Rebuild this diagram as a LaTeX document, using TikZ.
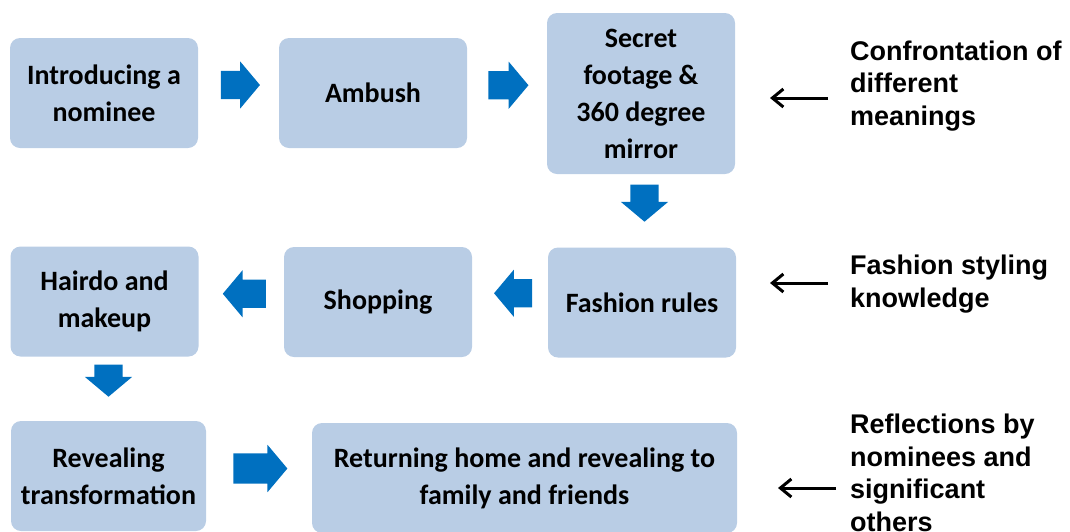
\documentclass[tikz,border=0pt]{standalone}
\usepackage{fontspec}
\setmainfont{Carlito}
\newfontfamily\notefont{Liberation Sans}
\usetikzlibrary{shapes,shapes.arrows,arrows.meta,calc,positioning}
\definecolor{boxblue}{HTML}{B9CDE5}
\definecolor{flowblue}{HTML}{0070C0}

\begin{document}
\begin{tikzpicture}[x=1pt, y=-1pt, >={Straight Barb[length=11pt,width=18pt]},
    stage/.style={rectangle, rounded corners=10pt, fill=boxblue, minimum width=188pt,
      minimum height=110pt, align=center, inner sep=2pt,
      font=\fontsize{28}{37}\selectfont\bfseries},
    flow/.style={single arrow, fill=flowblue, minimum width=47pt, inner xsep=0pt,
      inner ysep=14pt, single arrow head extend=9.5pt, single arrow tip angle=100},
    note/.style={anchor=west, align=left, inner sep=0pt,
      font=\notefont\fontsize{27}{32.5}\selectfont\bfseries}]
    \useasboundingbox (0,0) rectangle (1070,531);
    \node [stage]                             (intro)  at (104,93)    {Introducing a\\nominee};
    \node [stage]                             (ambush) at (373,93)    {Ambush};
    \node [stage, minimum height=161pt]       (secret) at (641,93.5)  {Secret\\footage \&\\360 degree\\mirror};
    \node [stage]                             (rules)  at (642,302.5) {Fashion rules};
    \node [stage]                             (shop)   at (378,302)   {Shopping};
    \node [stage]                             (hair)   at (104.5,301.5) {Hairdo and\\makeup};
    \node [stage, minimum width=195pt]        (reveal) at (108.5,476) {Revealing\\transformation};
    \node [stage, minimum width=425pt]        (home)   at (524.5,478) {Returning home and revealing to\\family and friends};

    \node [flow, minimum height=39pt]                (a1) at ($(intro.east)!0.5!(ambush.west)+(-4,-8)$) {};
    \node [flow, minimum height=40pt]                (a2) at ($(ambush.east)!0.5!(secret.west)+(-4.5,-8)$) {};
    \node [flow, minimum height=37pt, rotate=-90]    (a3) at ($(secret.south)!0.5!(rules.north)+(3,-13.5)$) {};
    \node [flow, minimum height=38pt, rotate=180]    (a4) at ($(rules.west)!0.5!(shop.east)+(9,-9)$) {};
    \node [flow, minimum height=43pt, rotate=180]    (a5) at ($(shop.west)!0.5!(hair.east)+(9,-8)$) {};
    \node [flow, minimum height=32pt, rotate=-90]    (a6) at ($(hair.south)!0.5!(reveal.north)+(2,-14)$) {};
    \node [flow, minimum height=54pt, inner ysep=15pt, single arrow head extend=8.5pt]
                                                     (a7) at ($(reveal.east)!0.5!(home.west)+(-5,-8.5)$) {};

    \node [note] (conflict) at (850,86)  {Confrontation of\\different\\meanings};
    \node [note] (styling)  at (850,284) {Fashion styling\\knowledge};
    \node [note] (reflect)  at (850,473) {Reflections by\\nominees and\\significant\\others};

    \draw [->, line width=3pt] ($(conflict.west)+(-22,12)$) -- ($(conflict.west)+(-80,12)$);
    \draw [->, line width=3pt] ($(styling.west)+(-22,-1)$)  -- ($(styling.west)+(-80,-1)$);
    \draw [->, line width=3pt] ($(reflect.west)+(-14,15)$)  -- ($(reflect.west)+(-72,15)$);
\end{tikzpicture}
\end{document}
